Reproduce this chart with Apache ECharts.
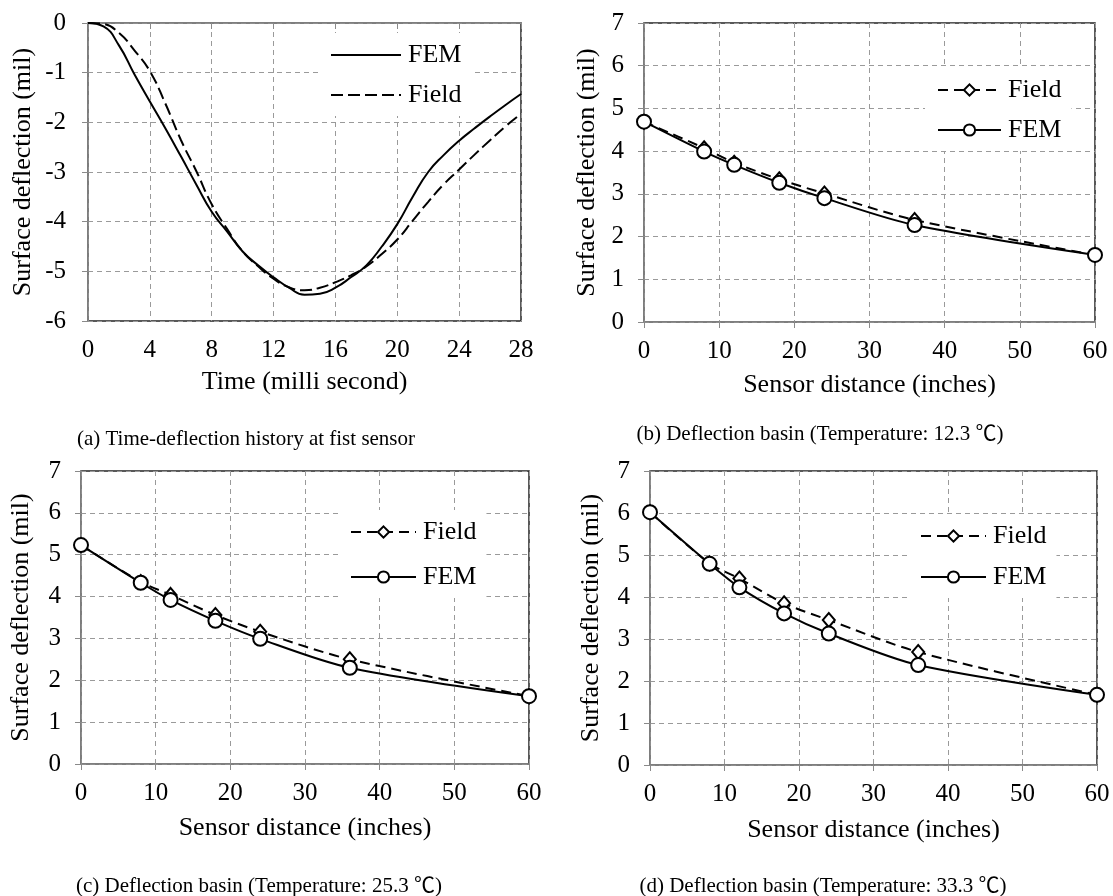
<!DOCTYPE html>
<html>
<head>
<meta charset="utf-8">
<script src="https://cdn.jsdelivr.net/npm/echarts@6/dist/echarts.min.js"></script>
<style>
  html, body { margin: 0; padding: 0; background: #fff; }
  #chart { width: 1113px; height: 896px; }
</style>
</head>
<body>
<div id="chart"></div>
<script>
let chart_dom = document.getElementById("chart");
let chart = echarts.init(chart_dom);
//----------------------Data----------------------
// (a) time history at first sensor
let time_ms = [0, 1, 2, 3, 4, 5, 6, 7, 8, 9, 10, 11, 12, 13, 14,
               15, 16, 17, 18, 19, 20, 21, 22, 23, 24, 25, 26, 27, 28];
let fem_history = [0, -0.07, -0.45, -1.03, -1.58, -2.12, -2.68, -3.25, -3.8, -4.2,
                   -4.6, -4.88, -5.12, -5.33, -5.47, -5.45, -5.33, -5.12, -4.88, -4.5,
                   -4.05, -3.5, -3.0, -2.66, -2.37, -2.12, -1.88, -1.65, -1.43];
let field_history = [0, -0.02, -0.2, -0.55, -0.97, -1.62, -2.35, -2.98, -3.65, -4.15,
                     -4.6, -4.9, -5.15, -5.32, -5.38, -5.33, -5.22, -5.08, -4.9, -4.65,
                     -4.36, -3.98, -3.6, -3.25, -2.95, -2.65, -2.36, -2.08, -1.83];
// (b)(c)(d) deflection basins
let sensor_dist = [0, 8, 12, 18, 24, 36, 60];
let field_b = [4.69, 4.07, 3.73, 3.34, 3.01, 2.39, 1.57];
let fem_b   = [4.69, 3.99, 3.68, 3.26, 2.90, 2.27, 1.57];
let field_c = [5.23, 4.35, 4.04, 3.56, 3.16, 2.50, 1.62];
let fem_c   = [5.23, 4.33, 3.92, 3.42, 2.99, 2.30, 1.62];
let field_d = [6.02, 4.80, 4.44, 3.85, 3.45, 2.69, 1.67];
let fem_d   = [6.02, 4.79, 4.23, 3.61, 3.13, 2.38, 1.67];
// captions
let captions = [
    "(a) Time-deflection history at fist sensor",
    "(b) Deflection basin (Temperature: 12.3 \u2103)",
    "(c) Deflection basin (Temperature: 25.3 \u2103)",
    "(d) Deflection basin (Temperature: 33.3 \u2103)"
];
//--------------------Style--------------------
let font = "'Liberation Serif', 'Times New Roman', serif";
let axis_gray = "#8a8a8a";
let grid_gray = "#9a9a9a";
let tick_size = 25;
let name_size = 26;

function zip(xs, ys) {
    return xs.map((x, i) => [x, ys[i]]);
}
//--------------------Location--------------------
let grids = [
    {left: 88,  top: 23,  width: 433, height: 298},
    {left: 644, top: 23,  width: 451, height: 299},
    {left: 81,  top: 471, width: 448, height: 293},
    {left: 650, top: 471, width: 447, height: 294}
].map(g => Object.assign(g, {show: true, borderColor: "#222", borderWidth: 1.5}));

let split_line = {show: true, lineStyle: {color: grid_gray, type: [5, 4], width: 1}};

function xAxisBasin(idx, nameGap) {
    return {
        type: 'value', gridIndex: idx, min: 0, max: 60, interval: 10,
        name: 'Sensor distance (inches)', nameLocation: 'middle', nameGap: nameGap,
        nameTextStyle: {fontFamily: font, fontSize: name_size, color: '#000'},
        axisLine: {show: true, onZero: false, lineStyle: {color: axis_gray, width: 1.5}},
        axisTick: {show: true, length: 6, lineStyle: {color: axis_gray}},
        axisLabel: {fontFamily: font, fontSize: tick_size, color: '#000', margin: 17},
        splitLine: split_line
    };
}
function yAxisBasin(idx, nameGap) {
    return {
        type: 'value', gridIndex: idx, min: 0, max: 7, interval: 1,
        name: 'Surface deflection (mil)', nameLocation: 'middle', nameGap: nameGap,
        nameTextStyle: {fontFamily: font, fontSize: name_size, color: '#000'},
        axisLine: {show: true, onZero: false, lineStyle: {color: axis_gray, width: 1.5}},
        axisTick: {show: true, length: 6, lineStyle: {color: axis_gray}},
        axisLabel: {fontFamily: font, fontSize: tick_size, color: '#000', margin: 20},
        splitLine: split_line
    };
}

let x_axes = [
    {
        type: 'value', gridIndex: 0, min: 0, max: 28, interval: 4,
        name: 'Time (milli second)', nameLocation: 'middle', nameGap: 48,
        nameTextStyle: {fontFamily: font, fontSize: name_size, color: '#000'},
        axisLine: {show: false, onZero: false},
        axisTick: {show: false},
        axisLabel: {fontFamily: font, fontSize: tick_size, color: '#000', margin: 17},
        splitLine: split_line
    },
    {
        type: 'value', gridIndex: 0, min: 0, max: 28, interval: 4, position: 'top',
        axisLine: {show: true, onZero: false, lineStyle: {color: axis_gray, width: 1.5}},
        axisTick: {show: true, inside: true, length: 6, lineStyle: {color: axis_gray}},
        axisLabel: {show: false},
        splitLine: {show: false}
    },
    xAxisBasin(1, 50),
    xAxisBasin(2, 51),
    xAxisBasin(3, 52)
];
let y_axes = [
    {
        type: 'value', gridIndex: 0, min: -6, max: 0, interval: 1,
        name: 'Surface deflection (mil)', nameLocation: 'middle', nameGap: 52,
        nameTextStyle: {fontFamily: font, fontSize: name_size, color: '#000'},
        axisLine: {show: true, onZero: false, lineStyle: {color: axis_gray, width: 1.5}},
        axisTick: {show: true, length: 6, lineStyle: {color: axis_gray}},
        axisLabel: {fontFamily: font, fontSize: tick_size, color: '#000', margin: 22},
        splitLine: split_line
    },
    yAxisBasin(1, 44),
    yAxisBasin(2, 47),
    yAxisBasin(3, 46)
];
//---------------------Series---------------------
function historySeries(name, ys, dash) {
    return {
        name: name, type: 'line', xAxisIndex: 0, yAxisIndex: 0,
        data: zip(time_ms, ys), smooth: true, symbol: 'none',
        lineStyle: {color: '#000', width: 2, type: dash},
        itemStyle: {color: '#000'}
    };
}
function basinSeries(tag, idx, field, fem) {
    return [
        {
            name: 'Field ' + tag, type: 'line', xAxisIndex: idx + 1, yAxisIndex: idx,
            data: zip(sensor_dist, field), smooth: 0.3,
            symbol: 'emptyDiamond', symbolSize: [12, 14],
            lineStyle: {color: '#000', width: 2, type: [10, 6]},
            itemStyle: {color: '#000', borderWidth: 2}
        },
        {
            name: 'FEM ' + tag, type: 'line', xAxisIndex: idx + 1, yAxisIndex: idx,
            data: zip(sensor_dist, fem), smooth: 0.3,
            symbol: 'emptyCircle', symbolSize: 14,
            lineStyle: {color: '#000', width: 2},
            itemStyle: {color: '#000', borderWidth: 2}
        }
    ];
}
let series_list = [
    historySeries('FEM (a)', fem_history, 'solid'),
    historySeries('Field (a)', field_history, [12, 5])
].concat(basinSeries('(b)', 1, field_b, fem_b))
 .concat(basinSeries('(c)', 2, field_c, fem_c))
 .concat(basinSeries('(d)', 3, field_d, fem_d));
//---------------------Legends---------------------
function legendAt(names, left, top, gap, itemWidth) {
    return {
        data: names, orient: 'vertical', left: left, top: top,
        itemWidth: itemWidth, itemHeight: 14, itemGap: gap,
        backgroundColor: '#fff', padding: [9, 10, 8, 12],
        selectedMode: false,
        formatter: n => n.split(' ')[0],
        textStyle: {fontFamily: font, fontSize: name_size, color: '#000', padding: [0, 0, 0, 2]}
    };
}
let legend_a = legendAt(['FEM (a)', 'Field (a)'], 318, 33, 14, 70);
// plain lines only, no marker in the first legend
legend_a.itemStyle = {color: 'rgba(0,0,0,0)', borderColor: 'rgba(0,0,0,0)', borderWidth: 0};
let legends = [
    legend_a,
    legendAt(['Field (b)', 'FEM (b)'], 925, 68, 14, 63),
    legendAt(['Field (c)', 'FEM (c)'], 338, 510, 19, 65),
    legendAt(['Field (d)', 'FEM (d)'], 908, 514, 15, 65)
];
//---------------------Captions---------------------
let caption_pos = [[246, 439], [820, 434], [259, 886], [823, 886]];
let graphics = captions.map((t, i) => ({
    type: 'text', x: caption_pos[i][0], y: caption_pos[i][1],
    style: {
        text: t, fontFamily: font + ", 'Noto Sans CJK SC'", fontSize: 21, fill: '#000',
        align: 'center', verticalAlign: 'middle'
    }
}));
//------------------Generate Graph------------------
let option = {
    backgroundColor: '#fff',
    animation: false,
    grid: grids,
    xAxis: x_axes,
    yAxis: y_axes,
    legend: legends,
    series: series_list,
    graphic: graphics
};
chart.setOption(option, true);
</script>
</body>
</html>
